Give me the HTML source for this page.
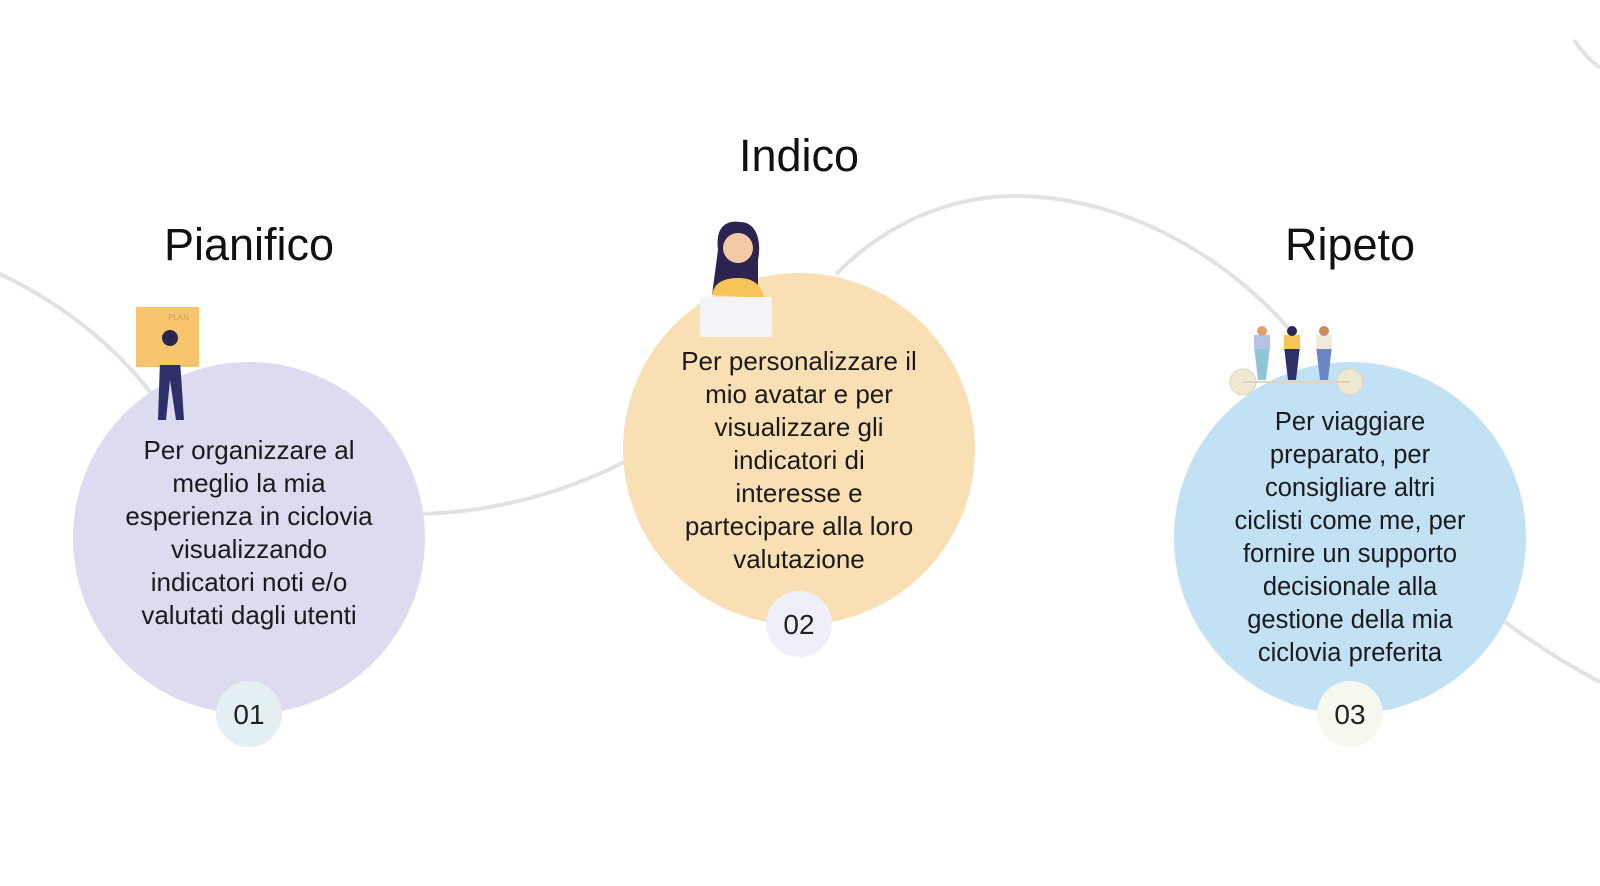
<!DOCTYPE html>
<html><head><meta charset="utf-8"><style>
html,body{margin:0;padding:0;background:#fff;width:1600px;height:886px;overflow:hidden}
svg{display:block}
.t{font-family:"Liberation Sans",sans-serif;font-size:45px;fill:#111;text-anchor:middle}
.b{font-family:"Liberation Sans Narrow","Liberation Sans",sans-serif;font-size:26px;fill:#1a1a1a;text-anchor:middle}
.c{font-family:"Liberation Sans",sans-serif;font-size:25.5px;fill:#1a1a1a;text-anchor:middle}
.n{font-family:"Liberation Sans Narrow","Liberation Sans",sans-serif;font-size:28px;fill:#222;text-anchor:middle}
</style></head><body>
<svg width="1600" height="886" viewBox="0 0 1600 886">
<g fill="none" stroke="#e2e2e2" stroke-width="4">
<path d="M0 274 C55 300 110 340 150 392"/>
<path d="M420 514 C500 512 570 490 626 461"/>
<path d="M836 274 C900 210 970 195 1020 196 C1120 198 1220 250 1292 332"/>
<path d="M1505 622 C1540 648 1570 666 1600 682"/>
<path d="M1574 40 C1582 52 1592 62 1600 68"/>
</g>
<circle cx="249" cy="538" r="176" fill="#dddbf0"/>
<circle cx="799" cy="449" r="176" fill="#f8e0b4"/>
<circle cx="1350" cy="538" r="176" fill="#c2e1f4"/>
<circle cx="249" cy="714" r="33" fill="#e3eff3"/>
<circle cx="799" cy="624" r="33" fill="#efeff8"/>
<circle cx="1350" cy="714" r="33" fill="#f6f8ef"/>
<text class="t" x="249" y="260">Pianifico</text>
<text class="t" x="799" y="171">Indico</text>
<text class="t" x="1350" y="260">Ripeto</text>
<g class="b">
<text x="249" y="459">Per organizzare al</text>
<text x="249" y="492">meglio la mia</text>
<text x="249" y="525">esperienza in ciclovia</text>
<text x="249" y="558">visualizzando</text>
<text x="249" y="591">indicatori noti e/o</text>
<text x="249" y="624">valutati dagli utenti</text>
</g>
<g class="b">
<text x="799" y="370">Per personalizzare il</text>
<text x="799" y="403">mio avatar e per</text>
<text x="799" y="436">visualizzare gli</text>
<text x="799" y="469">indicatori di</text>
<text x="799" y="502">interesse e</text>
<text x="799" y="535">partecipare alla loro</text>
<text x="799" y="568">valutazione</text>
</g>
<g class="c">
<text x="1350" y="430">Per viaggiare</text>
<text x="1350" y="463">preparato, per</text>
<text x="1350" y="496">consigliare altri</text>
<text x="1350" y="529">ciclisti come me, per</text>
<text x="1350" y="562">fornire un supporto</text>
<text x="1350" y="595">decisionale alla</text>
<text x="1350" y="628">gestione della mia</text>
<text x="1350" y="661">ciclovia preferita</text>
</g>
<text class="n" x="249" y="724">01</text>
<text class="n" x="799" y="634">02</text>
<text class="n" x="1350" y="724">03</text>
<!-- plan figure -->
<rect x="136" y="307" width="63" height="60" fill="#f7c46e"/>
<text x="168" y="320" font-size="8" fill="#c9a060" font-family="Liberation Sans">PLAN</text>
<path d="M160 360 L180 360 L184 420 L176 420 L170 380 L166 420 L158 420 Z" fill="#2d2f6b"/>
<path d="M158 345 L182 345 L184 365 L156 365 Z" fill="#f7c46e"/>
<circle cx="170" cy="338" r="8" fill="#2a2550"/>
<!-- girl with laptop -->
<path d="M718 250 C715 225 728 220 740 222 C756 222 762 240 758 260 L758 295 L712 295 Z" fill="#2c2350"/>
<circle cx="738" cy="248" r="15" fill="#f4c9a8"/>
<path d="M712 295 C714 282 725 278 738 278 C752 278 762 284 764 298 Z" fill="#f6c458"/>
<rect x="700" y="297" width="72" height="40" rx="3" fill="#f3f4f8"/>
<!-- bikes -->
<g>
<circle cx="1243" cy="382" r="13" fill="#efe8d2" stroke="#ddd5bd"/>
<circle cx="1350" cy="382" r="13" fill="#efe8d2" stroke="#ddd5bd"/>
<line x1="1243" y1="382" x2="1350" y2="382" stroke="#ddd5bd" stroke-width="2"/>
<path d="M1254 346 L1270 346 L1266 380 L1258 380 Z" fill="#8fc4d6"/>
<path d="M1284 346 L1300 346 L1296 380 L1288 380 Z" fill="#2d2f6b"/>
<path d="M1316 346 L1332 346 L1328 380 L1320 380 Z" fill="#6b86c4"/>
<rect x="1254" y="335" width="16" height="14" fill="#b7c3e6"/>
<rect x="1284" y="335" width="16" height="14" fill="#f6c458"/>
<rect x="1316" y="335" width="16" height="14" fill="#f0ead8"/>
<circle cx="1262" cy="331" r="5" fill="#e0a070"/>
<circle cx="1292" cy="331" r="5" fill="#2c2350"/>
<circle cx="1324" cy="331" r="5" fill="#c98c60"/>
</g>
</svg>
</body></html>
